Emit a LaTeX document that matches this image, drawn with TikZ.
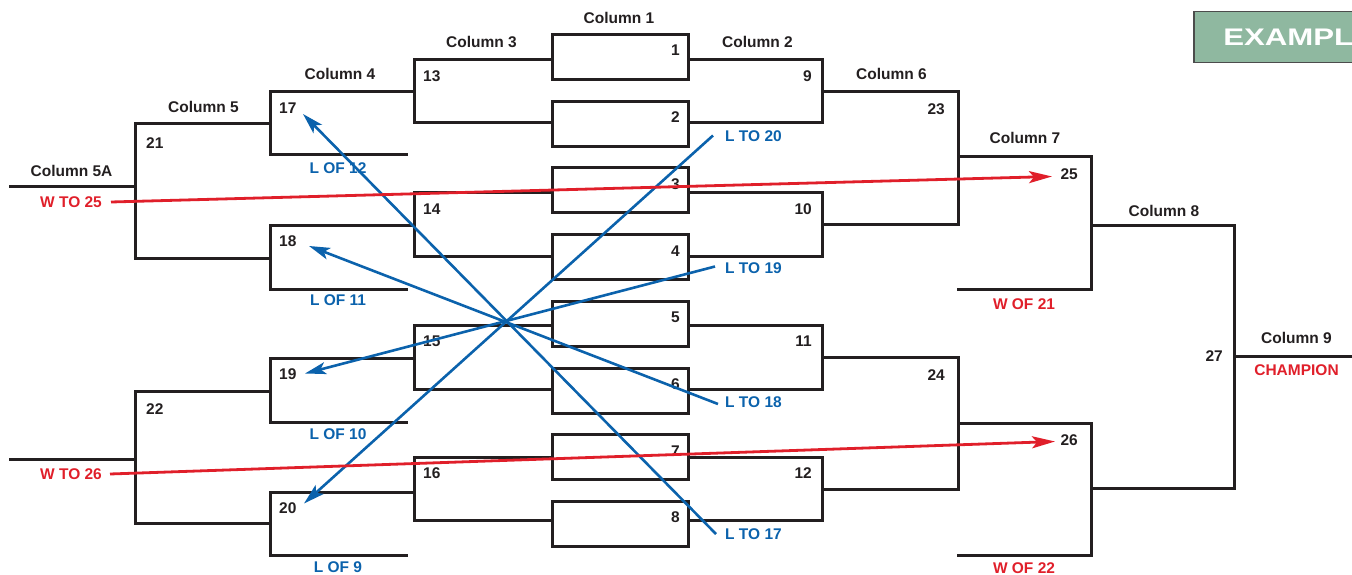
\documentclass[tikz,border=0pt]{standalone}
\usepackage{fontspec}
\setmainfont{Liberation Sans}
\usetikzlibrary{arrows.meta}
\definecolor{ink}{HTML}{231F20}
\definecolor{lblue}{HTML}{0B62AC}
\definecolor{lred}{HTML}{E01F2A}
\definecolor{exgreen}{HTML}{8FB8A0}
\tikzset{
  brk/.style={draw=ink, line width=3pt, line join=miter},
  mbox/.style={draw=ink, fill=white, line width=3pt, minimum width=136pt, minimum height=45pt, inner sep=0pt},
  num/.style={text=ink, font=\fontsize{15.5}{18}\selectfont\bfseries, inner sep=0pt},
  coltxt/.style={text=ink, font=\fontsize{15.5}{18}\selectfont\bfseries, inner sep=0pt},
  bluetxt/.style={text=lblue, font=\fontsize{15.5}{18}\selectfont\bfseries, inner sep=0pt},
  redtxt/.style={text=lred, font=\fontsize{15.5}{18}\selectfont\bfseries, inner sep=0pt},
  bluearr/.style={draw=lblue, line width=2.6pt, -{Stealth[length=21pt,width=12pt,inset=5pt]}},
  redarr/.style={draw=lred, line width=2.8pt, -{Stealth[length=23pt,width=12pt,inset=5pt]}},
}
\begin{document}
\begin{tikzpicture}[x=1pt,y=-1pt]
\useasboundingbox (0,0) rectangle (1352,575);
% EXAMPLE badge
\fill[exgreen] (1194,11.5) rectangle (1352,62.5);
\draw[draw=black!70, line width=1.4pt] (1352,11.5) -- (1194,11.5) -- (1194,62.5) -- (1352,62.5);
\node[text=white, font=\fontsize{24}{26}\selectfont\bfseries, inner sep=0pt, anchor=west, xscale=1.3] (example) at (1223,37) {EXAMPL};

% Column 3 brackets
\draw[brk] (552,60) -- (414,60) -- (414,123) -- (552,123);
\draw[brk] (552,192) -- (414,192) -- (414,256) -- (552,256);
\draw[brk] (552,325) -- (414,325) -- (414,389) -- (552,389);
\draw[brk] (552,457) -- (414,457) -- (414,520) -- (552,520);
% Column 2 brackets
\draw[brk] (688,60) -- (822,60) -- (822,123) -- (688,123);
\draw[brk] (688,192) -- (822,192) -- (822,256) -- (688,256);
\draw[brk] (688,325) -- (822,325) -- (822,389) -- (688,389);
\draw[brk] (688,457) -- (822,457) -- (822,520) -- (688,520);
% Column 4 brackets
\draw[brk] (414,92) -- (270,92) -- (270,155) -- (408,155);
\draw[brk] (414,225) -- (270,225) -- (270,289) -- (408,289);
\draw[brk] (414,358) -- (270,358) -- (270,422) -- (408,422);
\draw[brk] (414,492) -- (270,492) -- (270,555) -- (408,555);
% Column 5 brackets and 5A stubs
\draw[brk] (270,124) -- (135,124) -- (135,258) -- (270,258);
\draw[brk] (270,391) -- (135,391) -- (135,523) -- (270,523);
\draw[brk] (9,186) -- (135,186);
\draw[brk] (9,459) -- (135,459);
% Column 6 brackets
\draw[brk] (822,92) -- (958,92) -- (958,224) -- (822,224);
\draw[brk] (822,357) -- (958,357) -- (958,489) -- (822,489);
% Column 7 brackets
\draw[brk] (958,157) -- (1091,157) -- (1091,289) -- (957,289);
\draw[brk] (958,423) -- (1091,423) -- (1091,555) -- (957,555);
% Column 8 bracket and column 9 line
\draw[brk] (1091,225) -- (1234,225) -- (1234,488) -- (1091,488);
\draw[brk] (1234,356) -- (1352,356);

% Column 1 boxes
\node[mbox] (b1) at (620,57) {};
\node[mbox] (b2) at (620,124) {};
\node[mbox] (b3) at (620,190) {};
\node[mbox] (b4) at (620,257) {};
\node[mbox] (b5) at (620,324) {};
\node[mbox] (b6) at (620,391) {};
\node[mbox] (b7) at (620,457) {};
\node[mbox] (b8) at (620,524) {};

% numbers
\node[num, anchor=east] (n1) at (680,50) {1};
\node[num, anchor=east] (n2) at (680,117) {2};
\node[num, anchor=east] (n3) at (680,184) {3};
\node[num, anchor=east] (n4) at (680,251) {4};
\node[num, anchor=east] (n5) at (680,317.5) {5};
\node[num, anchor=east] (n6) at (680,384) {6};
\node[num, anchor=east] (n7) at (680,451) {7};
\node[num, anchor=east] (n8) at (680,517.5) {8};
\node[num, anchor=east] (n9) at (812,76) {9};
\node[num, anchor=east] (n10) at (812,209) {10};
\node[num, anchor=east] (n11) at (812,341) {11};
\node[num, anchor=east] (n12) at (812,473) {12};
\node[num, anchor=west] (n13) at (423,76) {13};
\node[num, anchor=west] (n14) at (423,209) {14};
\node[num, anchor=west] (n15) at (423,341) {15};
\node[num, anchor=west] (n16) at (423,473) {16};
\node[num, anchor=west] (n17) at (279,108) {17};
\node[num, anchor=west] (n18) at (279,241) {18};
\node[num, anchor=west] (n19) at (279,374.5) {19};
\node[num, anchor=west] (n20) at (279,508) {20};
\node[num, anchor=west] (n21) at (146,143) {21};
\node[num, anchor=west] (n22) at (146,409) {22};
\node[num, anchor=east] (n23) at (945,109) {23};
\node[num, anchor=east] (n24) at (945,375) {24};
\node[num, anchor=east] (n25) at (1078,174) {25};
\node[num, anchor=east] (n26) at (1078,440) {26};
\node[num, anchor=east] (n27) at (1223,356) {27};

% column headings
\node[coltxt] (c1) at (619,18) {Column 1};
\node[coltxt] (c3) at (481.5,42) {Column 3};
\node[coltxt] (c2) at (757.5,42) {Column 2};
\node[coltxt] (c4) at (340,74) {Column 4};
\node[coltxt] (c6) at (891.5,73.5) {Column 6};
\node[coltxt] (c5) at (203.5,107) {Column 5};
\node[coltxt] (c5a) at (71.5,170.5) {Column 5A};
\node[coltxt] (c7) at (1025,138) {Column 7};
\node[coltxt] (c8) at (1164,210.5) {Column 8};
\node[coltxt] (c9) at (1296.5,338) {Column 9};

% red labels
\node[redtxt] (champ) at (1296.5,370) {CHAMPION};
\node[redtxt] (wof21) at (1024,304) {W OF 21};
\node[redtxt] (wof22) at (1024,568) {W OF 22};
\node[redtxt] (wto25) at (71,202) {W TO 25};
\node[redtxt] (wto26) at (71,474) {W TO 26};

% blue labels
\node[bluetxt] (lof12) at (338,168) {L OF 12};
\node[bluetxt] (lof11) at (338,300) {L OF 11};
\node[bluetxt] (lof10) at (338,434.5) {L OF 10};
\node[bluetxt] (lof9) at (338,567.5) {L OF 9};
\node[bluetxt, anchor=west] (lto20) at (725,136.5) {L TO 20};
\node[bluetxt, anchor=west] (lto19) at (725,268) {L TO 19};
\node[bluetxt, anchor=west] (lto18) at (725,402) {L TO 18};
\node[bluetxt, anchor=west] (lto17) at (725,534) {L TO 17};

% arrow end points
\coordinate (s20) at (713,135.5);
\coordinate (s19) at (715,266.5);
\coordinate (s18) at (718,404);
\coordinate (s17) at (716,534);
\coordinate (t20) at (304,503.5);
\coordinate (t19) at (305,373.5);
\coordinate (t18) at (309,246);
\coordinate (t17) at (303,114);
\coordinate (s25) at (111,202);
\coordinate (t25) at (1052,176.5);
\coordinate (s26) at (110,474);
\coordinate (t26) at (1055,441.5);

% loser arrows
\draw[bluearr] (s20) -- (t20);
\draw[bluearr] (s19) -- (t19);
\draw[bluearr] (s18) -- (t18);
\draw[bluearr] (s17) -- (t17);
% winner arrows
\draw[redarr] (s25) -- (t25);
\draw[redarr] (s26) -- (t26);
\end{tikzpicture}
\end{document}
